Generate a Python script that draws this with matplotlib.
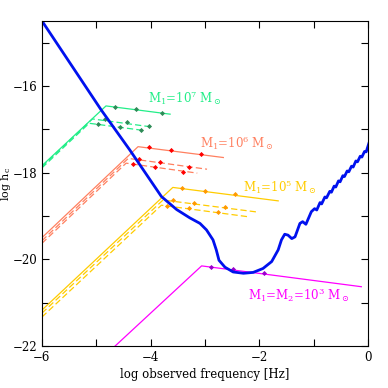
import numpy as np
import matplotlib
matplotlib.use('Agg')
import matplotlib.pyplot as plt

plt.rcParams['font.family'] = 'DejaVu Serif'
plt.rcParams['mathtext.fontset'] = 'dejavuserif'

# detector sensitivity curve (log f, log h_c)
sens_x = [-6.02, -4.91, -4.38, -3.80, -3.52, -3.28, -3.09, -2.97, -2.85, -2.79, -2.74,
          -2.63, -2.48, -2.29, -2.11, -1.93, -1.77, -1.65, -1.59, -1.53, -1.47, -1.40,
          -1.34, -1.25, -1.20, -1.14, -1.04, -0.98, -0.94, -0.88, -0.85, -0.79, -0.76,
          -0.70, -0.67, -0.62, -0.59, -0.54, -0.51, -0.46, -0.43, -0.38, -0.35, -0.30,
          -0.27, -0.22, -0.19, -0.14, -0.11, -0.06, -0.03, 0.02]
sens_y = [-14.46, -16.55, -17.48, -18.55, -18.85, -19.04, -19.17, -19.32, -19.55, -19.78, -20.02,
          -20.18, -20.29, -20.32, -20.30, -20.21, -20.05, -19.78, -19.55, -19.42, -19.44, -19.52,
          -19.48, -19.17, -19.13, -19.19, -18.90, -18.83, -18.86, -18.69, -18.72, -18.56, -18.58,
          -18.43, -18.45, -18.31, -18.33, -18.19, -18.21, -18.07, -18.09, -17.96, -17.98, -17.85,
          -17.87, -17.73, -17.75, -17.62, -17.64, -17.51, -17.52, -17.32]

# source tracks: left edge, knee, end  (x and y)
green_solid = ([-6.0, -4.82, -3.64], [-17.84, -16.46, -16.65])
green_d1 = ([-6.0, -5.07, -3.95], [-17.86, -16.76, -16.95])
green_d2 = ([-6.0, -5.13, -4.10], [-17.89, -16.86, -17.03])
green_mk = ([-4.66, -4.26, -3.79, -4.84, -4.44, -4.03, -4.96, -4.56, -4.18],
            [-16.48, -16.54, -16.63, -16.77, -16.84, -16.92, -16.88, -16.95, -17.02])

red_solid = ([-6.0, -4.23, -2.66], [-19.50, -17.40, -17.65])
red_d1 = ([-6.0, -4.41, -2.96], [-19.57, -17.67, -17.92])
red_d2 = ([-6.0, -4.45, -3.14], [-19.63, -17.78, -18.01])
red_mk = ([-4.03, -3.63, -3.08, -4.21, -3.82, -3.29, -4.33, -3.92, -3.41],
          [-17.40, -17.48, -17.57, -17.68, -17.76, -17.86, -17.80, -17.88, -17.98])

yel_solid = ([-6.0, -3.59, -1.65], [-21.17, -18.34, -18.65])
yel_d1 = ([-6.0, -3.77, -2.02], [-21.24, -18.63, -18.91])
yel_d2 = ([-6.0, -3.80, -2.18], [-21.33, -18.75, -19.02])
yel_mk = ([-3.42, -3.00, -2.45, -3.59, -3.20, -2.63, -3.70, -3.29, -2.75],
          [-18.35, -18.42, -18.49, -18.63, -18.71, -18.80, -18.76, -18.82, -18.90])

mag_line = ([-4.80, -3.06, -0.12], [-22.17, -20.15, -20.63])
mag_mk = ([-2.89, -2.48, -1.91], [-20.17, -20.22, -20.32])

fig = plt.figure(figsize=(3.88, 3.88), dpi=100)
ax = fig.add_axes([0.108, 0.108, 0.840, 0.838])

dash = (0, (5, 2.5))
groups = [
    (green_solid, green_d1, green_d2, green_mk, '#22ee88', '#2e8b57'),
    (red_solid, red_d1, red_d2, red_mk, '#ff8060', '#ff0000'),
    (yel_solid, yel_d1, yel_d2, yel_mk, '#ffcc00', '#ff9900'),
]
for solid, d1, d2, mk, lc, mc in groups:
    ax.plot(solid[0], solid[1], color=lc, lw=0.9)
    ax.plot(d1[0], d1[1], color=lc, lw=0.9, ls=dash)
    ax.plot(d2[0], d2[1], color=lc, lw=0.9, ls=dash)
    ax.plot(mk[0], mk[1], 'D', color=mc, ms=2.6, mew=0)

ax.plot(mag_line[0], mag_line[1], color='#ff00ff', lw=0.9)
ax.plot(mag_mk[0], mag_mk[1], 'D', color='#9900cc', ms=2.6, mew=0)

ax.plot(sens_x, sens_y, color='#0011ee', lw=2.0)

fs = 8.5
ax.text(-4.05, -16.28, r'M$_1$=10$^7$ M$_\odot$', color='#22ee88', fontsize=fs, va='center')
ax.text(-3.09, -17.32, r'M$_1$=10$^6$ M$_\odot$', color='#ff8060', fontsize=fs, va='center')
ax.text(-2.30, -18.33, r'M$_1$=10$^5$ M$_\odot$', color='#ffcc00', fontsize=fs, va='center')
ax.text(-2.21, -20.82, r'M$_1$=M$_2$=10$^3$ M$_\odot$', color='#ff00ff', fontsize=fs, va='center')

ax.set_xlim(-6, 0)
ax.set_ylim(-22, -14.5)
ax.set_xticks([-6, -4, -2, 0])
ax.set_xticks([-5, -3, -1], minor=True)
ax.set_yticks([-22, -20, -18, -16])
ax.set_yticks([-21, -19, -17, -15], minor=True)
ax.tick_params(which='both', direction='in', top=True, right=True, length=5, width=0.8,
               labelsize=fs)
ax.set_xlabel('log observed frequency [Hz]', fontsize=fs, labelpad=3)
ax.set_ylabel(r'log h$_{\rm c}$', fontsize=8)
ax.yaxis.set_label_coords(-0.089, 0.5)

plt.savefig('out.png', dpi=100)
